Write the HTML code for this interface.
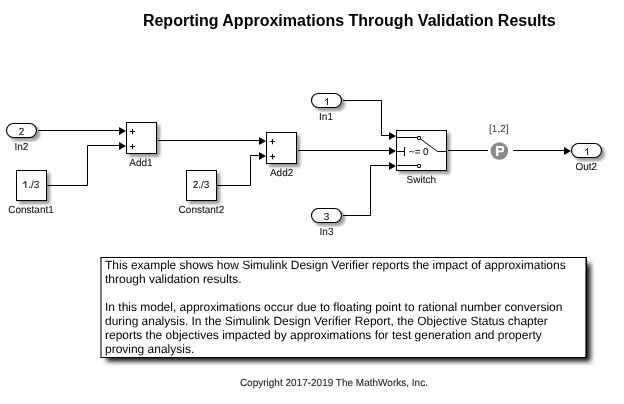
<!DOCTYPE html>
<html><head><meta charset="utf-8">
<style>
html,body{margin:0;padding:0;background:#fff;}
body{width:624px;height:404px;overflow:hidden;position:relative;font-family:"Liberation Sans",sans-serif;}
svg{position:absolute;left:0;top:0;will-change:transform;}
svg text{font-family:"Liberation Sans",sans-serif;}
.lbl{text-rendering:geometricPrecision;font-size:10.3px;fill:#111;stroke:#111;stroke-width:0.08px;text-anchor:middle;}
.note{will-change:transform;position:absolute;left:100px;top:257px;width:484px;height:99px;border:1px solid #000;border-left:2px solid #7a7a7a;background:#fff;box-shadow:4.5px 4.5px 5px -1px rgba(0,0,0,0.93), inset -1px 0 0 #6a6a6a;}
.note p{text-rendering:geometricPrecision;letter-spacing:-0.01px;margin:0;position:absolute;left:3px;font-size:12px;line-height:14px;color:#000;white-space:nowrap;}
</style></head><body>
<svg width="624" height="404" viewBox="0 0 624 404">
<defs>
<filter id="sh" x="-30%" y="-30%" width="160%" height="160%">
<feGaussianBlur in="SourceAlpha" stdDeviation="1.5"/>
<feOffset dx="3.2" dy="3.2" result="b"/>
<feComponentTransfer><feFuncA type="linear" slope="0.4"/></feComponentTransfer>
<feMerge><feMergeNode/><feMergeNode in="SourceGraphic"/></feMerge>
</filter>
</defs>
<text x="349.3" y="26" style="font-size:16px;font-weight:bold;text-anchor:middle;fill:#000">Reporting Approximations Through Validation Results</text>

<g fill="#fff" stroke="#000" stroke-width="1">
<rect x="6.5" y="123.5" width="30" height="14" rx="6.8" ry="7" stroke-width="1.15" filter="url(#sh)"/>
<rect x="311.5" y="93.5" width="30" height="14" rx="6.8" ry="7" stroke-width="1.15" filter="url(#sh)"/>
<rect x="311.5" y="208.5" width="30" height="14" rx="6.8" ry="7" stroke-width="1.15" filter="url(#sh)"/>
<rect x="571.5" y="143.5" width="30" height="14" rx="6.8" ry="7" stroke-width="1.15" filter="url(#sh)"/>
<rect x="16.5" y="170.5" width="30" height="30" filter="url(#sh)"/>
<rect x="186.5" y="170.5" width="30" height="30" filter="url(#sh)"/>
<rect x="126.5" y="122.5" width="30" height="31" filter="url(#sh)"/>
<rect x="266.5" y="132.5" width="30" height="31" filter="url(#sh)"/>
<rect x="396.5" y="130.5" width="50" height="40" filter="url(#sh)"/>
</g>

<g fill="none" stroke="#000" stroke-width="1">
<path d="M38 130.5H120"/>
<path d="M47 185.5H87.5V145.5H120"/>
<path d="M158 140.5H260"/>
<path d="M217 185.5H250.5V155.5H260"/>
<path d="M298 150.5H390"/>
<path d="M343 100.5H381.5V135.5H390"/>
<path d="M343 215.5H370.5V165.5H390"/>
<path d="M448 150.5H488"/>
<path d="M513 150.5H565"/>
<!-- switch internals -->
<path d="M397 137.5H417.5"/>
<rect x="417.5" y="136.5" width="3" height="3" rx="0.4"/>
<path d="M420.5 139L437.5 151.5H446"/>
<path d="M397 151.5H404.5M404.5 147V156"/>
<path d="M397 165.5H417.5"/>
<rect x="417.5" y="164.5" width="3" height="3" rx="0.4"/>
</g>
<g fill="#000">
<path d="M119 127.0L126 131.0L119 135.0Z"/>
<path d="M119 142.0L126 146.0L119 150.0Z"/>
<path d="M259 137.0L266 141.0L259 145.0Z"/>
<path d="M259 152.0L266 156.0L259 160.0Z"/>
<path d="M389 132.0L396 136.0L389 140.0Z"/>
<path d="M389 147.0L396 151.0L389 155.0Z"/>
<path d="M389 162.0L396 166.0L389 170.0Z"/>
<path d="M564 147.0L571 151.0L564 155.0Z"/>
</g>
<!-- plus signs -->
<g stroke="#000" stroke-width="1.05" stroke-linecap="round" fill="none">
<path d="M130.3 131.5H134.7M132.5 129.3V133.7"/>
<path d="M130.3 146.5H134.7M132.5 144.3V148.7"/>
<path d="M270.3 141.5H274.7M272.5 139.3V143.7"/>
<path d="M270.3 156.5H274.7M272.5 154.3V158.7"/>
</g>
<circle cx="499.4" cy="151" r="8.8" fill="#8a8a8a"/>
<path fill="#fff" fill-rule="evenodd" d="M495.9 146H502Q504.1 146 504.1 148.3V150Q504.1 152.3 502 152.3H498.4V156.1H495.9ZM498.4 148H501.3Q502 148 502 148.7V149.8Q502 150.5 501.3 150.5H498.4Z"/>

<text class="lbl" transform="translate(21.4 150) scale(0.971 1)">In2</text>
<text class="lbl" transform="translate(326 120) scale(0.971 1)">In1</text>
<text class="lbl" transform="translate(326.5 235) scale(0.971 1)">In3</text>
<text class="lbl" transform="translate(586.3 170) scale(0.971 1)">Out2</text>
<text class="lbl" transform="translate(31 213) scale(0.971 1)">Constant1</text>
<text class="lbl" transform="translate(201.4 213) scale(0.971 1)">Constant2</text>
<text class="lbl" transform="translate(140.9 166) scale(0.971 1)">Add1</text>
<text class="lbl" transform="translate(281.6 176) scale(0.971 1)">Add2</text>
<text class="lbl" transform="translate(421.3 183) scale(0.971 1)">Switch</text>
<text class="lbl" transform="translate(498.8 132) scale(0.971 1)" style="fill:#3a3a3a;stroke:none">[1,2]</text>
<text class="lbl" transform="translate(21.5 135) scale(0.971 1)">2</text>
<path d="M327.5 98.3V105M324.9 100.8L327.7 98.5" stroke="#111" stroke-width="0.95" fill="none"/>
<text class="lbl" transform="translate(326.5 220) scale(0.971 1)">3</text>
<path d="M587.5 148.3V155M584.9 150.8L587.7 148.5" stroke="#111" stroke-width="0.95" fill="none"/>
<path d="M25.8 181.2V188M23.2 183.6L25.9 181.4" stroke="#111" stroke-width="1.05" fill="none"/>
<text class="lbl" transform="translate(28.2 188) scale(0.971 1)" style="text-anchor:start">./3</text>
<text class="lbl" transform="translate(201.0 188) scale(0.971 1)">2./3</text>
<text class="lbl" transform="translate(409 155) scale(0.94 0.96)" style="text-anchor:start;fill:#222;stroke:#222;stroke-width:0.2px">~= 0</text>
<text class="lbl" transform="translate(333.9 386) scale(0.971 1)" style="fill:#222">Copyright 2017-2019 The MathWorks, Inc.</text>
</svg>
<div class="note">
<p style="top:0px">This example shows how Simulink Design Verifier reports the impact of approximations</p>
<p style="top:14px">through validation results.</p>
<p style="top:42px">In this model, approximations occur due to floating point to rational number conversion</p>
<p style="top:56px">during analysis. In the Simulink Design Verifier Report, the Objective Status chapter</p>
<p style="top:70px">reports the objectives impacted by approximations for test generation and property</p>
<p style="top:84px">proving analysis.</p>
</div>
</body></html>
